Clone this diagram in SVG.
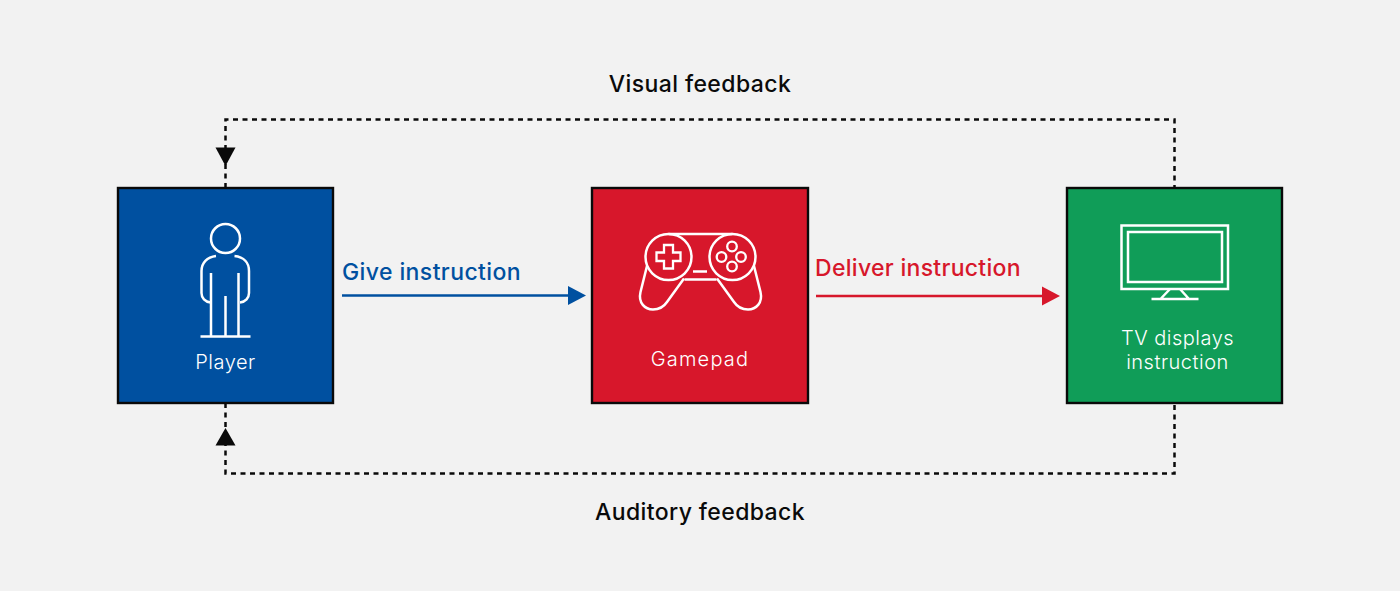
<svg xmlns="http://www.w3.org/2000/svg" width="1400" height="591" viewBox="0 0 1400 591">
  <style>
    .box { stroke: #0a0a0a; stroke-width: 2.4; }
    .icon { fill: none; stroke: #ffffff; stroke-width: 2.5; stroke-linecap: butt; stroke-linejoin: miter; }
    .icon-thin { fill: none; stroke: #ffffff; stroke-width: 2.3; }
    .caption { font-family: Inter, "Liberation Sans", sans-serif; font-size: 20px; font-weight: 300; fill: #ffffff; text-anchor: middle; letter-spacing: 0.5px; }
    .title { font-family: Inter, "Liberation Sans", sans-serif; font-size: 23px; font-weight: 500; letter-spacing: 0.4px; }
    .dash { fill: none; stroke: #0a0a0a; stroke-width: 2.5; stroke-dasharray: 5 4.5; }
  </style>

  <rect width="1400" height="591" fill="#f2f2f2"/>

  <g id="connectors">
    <path class="dash" d="M225.500 188 V119.500 H1174.500 V188"/>
    <path class="dash" d="M225.500 403 V473.500 H1174.500 V403"/>
    <polygon points="215.500,147.500 235.500,147.500 225.500,166" fill="#0a0a0a"/>
    <polygon points="225.500,428 235.500,445.500 215.500,445.500" fill="#0a0a0a"/>
    <line x1="342" y1="295.500" x2="570" y2="295.500" stroke="#0050a0" stroke-width="2.600"/>
    <polygon points="568,286 586,295.500 568,305" fill="#0050a0"/>
    <line x1="816" y1="296" x2="1044" y2="296" stroke="#d7172b" stroke-width="2.600"/>
    <polygon points="1042,286.500 1060,296 1042,305.500" fill="#d7172b"/>
  </g>

  <g id="player">
    <rect class="box" x="118" y="188" width="215" height="215" fill="#0050a0"/>
    <circle class="icon" cx="225.500" cy="238.500" r="14.500"/>
    <path class="icon" d="M216 256 C207 257 201.500 263 201.500 271 V293 C201.500 298 205 302 210.500 302.500"/>
    <path class="icon" d="M234.500 256 C244 257 249 263 249 271 V293 C249 298 245.500 302 240 302.500"/>
    <path class="icon" d="M211 273 V337 M238.500 273 V337 M225.500 296 V337 M200.500 336.500 H250.500"/>
    <text class="caption" x="225.500" y="369">Player</text>
  </g>

  <g id="gamepad">
    <rect class="box" x="592" y="188" width="216" height="215" fill="#d7172b"/>
    <circle class="icon" cx="668.500" cy="257" r="23"/>
    <circle class="icon" cx="732.500" cy="257" r="23"/>
    <path class="icon" d="M668.500 234 H732.500 M684.500 279.500 H716.500 M693 271.500 H707"/>
    <path class="icon" d="M647 266 L640.500 292 C638 303 645 309.500 653 309.500 C659 309.500 664 306.500 667 302 L684 278.500"/>
    <path class="icon" d="M754 266 L760.500 292 C763 303 756 309.500 748 309.500 C742 309.500 737 306.500 734 302 L717 278.500"/>
    <path class="icon-thin" d="M664 245 H673 V252.500 H680.500 V261 H673 V268.500 H664 V261 H656.500 V252.500 H664 Z"/>
    <circle class="icon-thin" cx="732" cy="246.500" r="4.800"/>
    <circle class="icon-thin" cx="721.500" cy="257" r="4.800"/>
    <circle class="icon-thin" cx="741" cy="257" r="4.800"/>
    <circle class="icon-thin" cx="732" cy="266.500" r="4.800"/>
    <text class="caption" x="700" y="366" style="letter-spacing:1.2px">Gamepad</text>
  </g>

  <g id="tv">
    <rect class="box" x="1067" y="188" width="215" height="215" fill="#109d58"/>
    <rect class="icon" x="1121.500" y="225.500" width="106.500" height="63.500"/>
    <rect class="icon" x="1128" y="232" width="94" height="50"/>
    <path class="icon" d="M1170 289 L1160.500 299 M1180 289 L1189 299 M1151.500 299 H1198.500"/>
    <text class="caption" x="1177.500" y="345">TV displays</text>
    <text class="caption" x="1177.500" y="369">instruction</text>
  </g>

  <g id="labels">
    <text class="title" x="700" y="92" fill="#0a0a0a" text-anchor="middle">Visual feedback</text>
    <text class="title" x="700" y="520" fill="#0a0a0a" text-anchor="middle">Auditory feedback</text>
    <text class="title" x="342" y="280" fill="#0050a0">Give instruction</text>
    <text class="title" x="815" y="276" fill="#d7172b" style="letter-spacing:0.3px">Deliver instruction</text>
  </g>
</svg>
